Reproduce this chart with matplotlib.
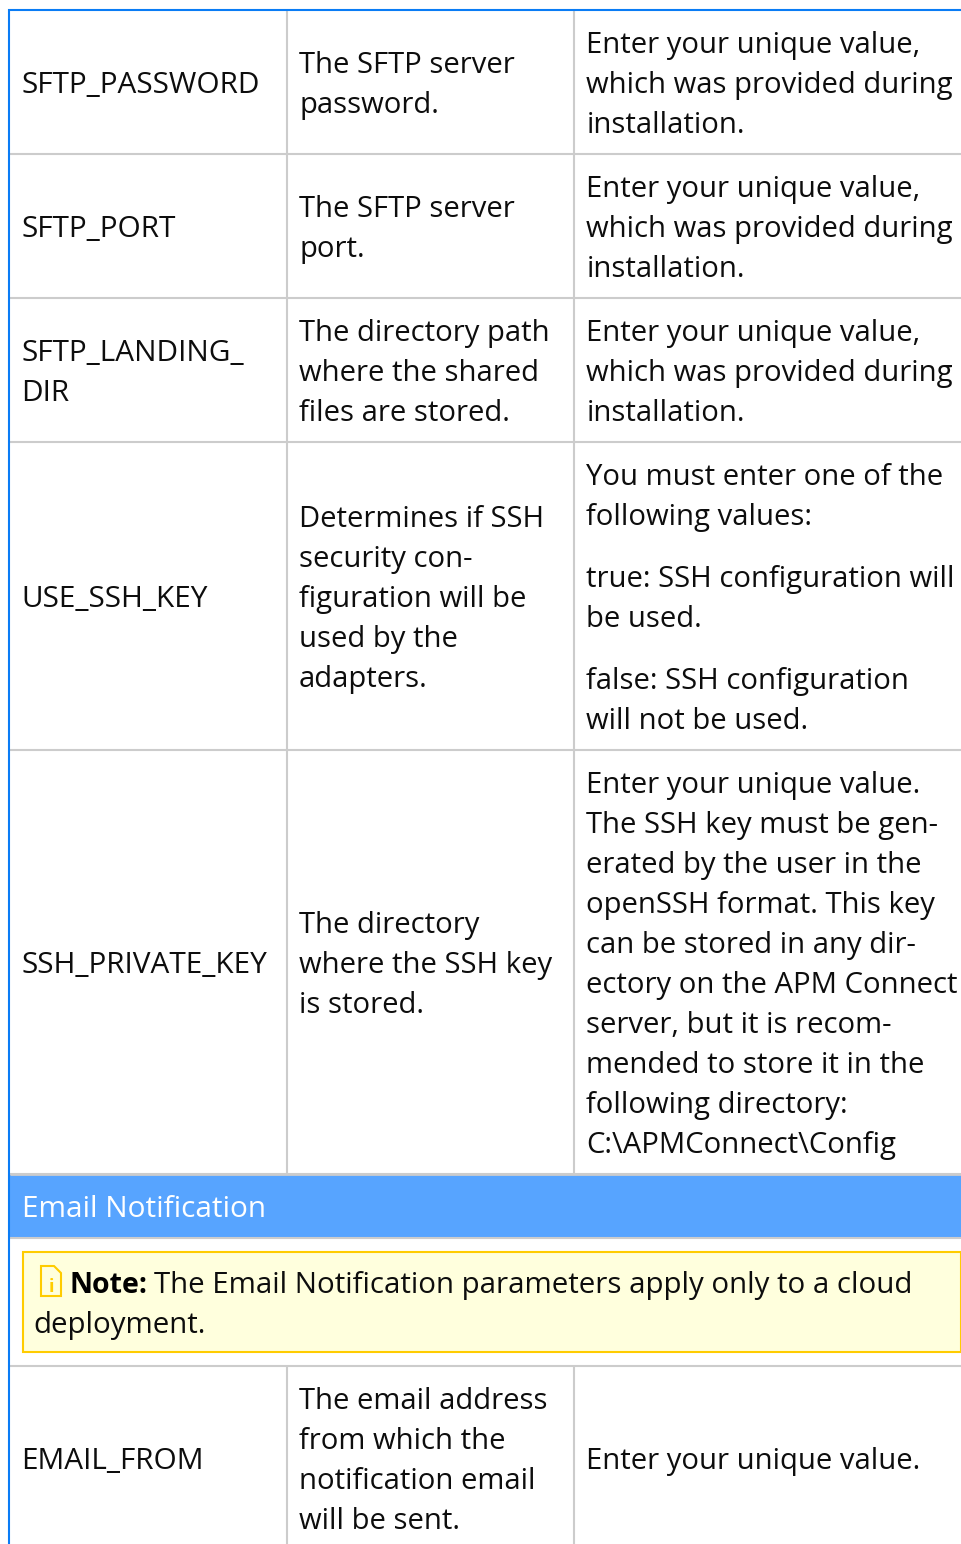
import matplotlib.pyplot as plt
from matplotlib.patches import Rectangle, Polygon

plt.rcParams['font.family'] = ['Open Sans', 'DejaVu Sans']

# Table text, one list per column. Each cell is a list of paragraphs.
names = [
    [["SFTP_PASSWORD"]],
    [["SFTP_PORT"]],
    [["SFTP_LANDING_", "DIR"]],
    [["USE_SSH_KEY"]],
    [["SSH_PRIVATE_KEY"]],
    [["EMAIL_FROM"]],
]
descriptions = [
    [["The SFTP server", "password."]],
    [["The SFTP server", "port."]],
    [["The directory path", "where the shared", "files are stored."]],
    [["Determines if SSH", "security con-", "figuration will be", "used by the", "adapters."]],
    [["The directory", "where the SSH key", "is stored."]],
    [["The email address", "from which the", "notification email", "will be sent."]],
]
unique = ["Enter your unique value,", "which was provided during", "installation."]
values = [
    [unique],
    [unique],
    [unique],
    [["You must enter one of the", "following values:"],
     ["true: SSH configuration will", "be used."],
     ["false: SSH configuration", "will not be used."]],
    [["Enter your unique value.", "The SSH key must be gen-", "erated by the user in the",
      "openSSH format. This key", "can be stored in any dir-", "ectory on the APM Connect",
      "server, but it is recom-", "mended to store it in the", "following directory:",
      "C:\\APMConnect\\Config"]],
    [["Enter your unique value."]],
]
section_title = "Email Notification"
note_label = "Note:"
note_line1 = "The Email Notification parameters apply only to a cloud"
note_line2 = "deployment."

# layout in pixels
W, H = 961, 1544
row_edges = [(10, 154), (154, 298), (298, 442), (442, 750), (750, 1174), (1366, 1552)]
col_x = [21.5, 299, 586.5]
col_sizes = [29.7, 29.25, 29.25]
col_lines = [286.5, 573.5]
line_h = 40
para_gap = 22
grey = "#cccccc"
blue = "#0a7cf5"
band = "#57a4ff"
text_col = "#0d0d0d"


def pt(px):
    return px * 72 / 100


def draw_cell(ax, x, center, paragraphs, size):
    n_lines = sum(len(p) for p in paragraphs)
    total = (n_lines - 1) * line_h + (len(paragraphs) - 1) * para_gap
    y = center - total / 2 + 10
    for para in paragraphs:
        for line in para:
            ax.text(x, y, line, fontsize=pt(size), color=text_col, va="baseline", ha="left")
            y += line_h
        y += para_gap


fig = plt.figure(figsize=(W / 100, H / 100), dpi=100)
ax = fig.add_axes([0, 0, 1, 1])
ax.set_xlim(0, W)
ax.set_ylim(H, 0)
ax.axis("off")

# Grid lines
for top, bottom in row_edges:
    ax.plot([10, W], [bottom, bottom], color=grey, lw=1.5, solid_capstyle="butt")
    for x in col_lines:
        ax.plot([x, x], [top, bottom], color=grey, lw=1.5, solid_capstyle="butt")
ax.plot([10, W], [1366, 1366], color=grey, lw=1.5, solid_capstyle="butt")

# Section band
ax.add_patch(Rectangle((10, 1175), W - 10, 62, facecolor=band, edgecolor="none"))
ax.plot([10, W], [1238, 1238], color=grey, lw=1.5, solid_capstyle="butt")
ax.plot([10, W], [1174, 1174], color=grey, lw=2, solid_capstyle="butt")
ax.text(21.5, 1217, section_title, fontsize=pt(29.7), color="white", va="baseline")

# Outer blue border
ax.plot([9, 9, W], [H, 10, 10], color=blue, lw=1.5, solid_joinstyle="miter")

# Note box
ax.add_patch(Rectangle((23, 1252), W - 23.5, 100, facecolor="#ffffdd", edgecolor="#ffcc00", lw=1.5))
ax.add_patch(Polygon([(41, 1266), (54, 1266), (61, 1273), (61, 1296), (41, 1296)],
                     closed=True, facecolor="#ffffdd", edgecolor="#ffcc00", lw=1.5))
ax.text(51, 1292, "i", fontsize=13, color="#ffcc00", ha="center", va="baseline", fontweight="bold")
ax.text(70, 1293, note_label, fontsize=pt(28.5), color="black", va="baseline", fontweight="bold")
ax.text(154, 1293, note_line1, fontsize=pt(29.5), color=text_col, va="baseline")
ax.text(33.5, 1333, note_line2, fontsize=pt(29.5), color=text_col, va="baseline")

# Cells
for i, (top, bottom) in enumerate(row_edges):
    center = (top + bottom) / 2 + 1
    if i == 5:
        center = 1459
    draw_cell(ax, col_x[0], center, names[i], col_sizes[0])
    draw_cell(ax, col_x[1], center, descriptions[i], col_sizes[1])
    draw_cell(ax, col_x[2], center, values[i], col_sizes[2])

fig.savefig("out.png", dpi=100)
